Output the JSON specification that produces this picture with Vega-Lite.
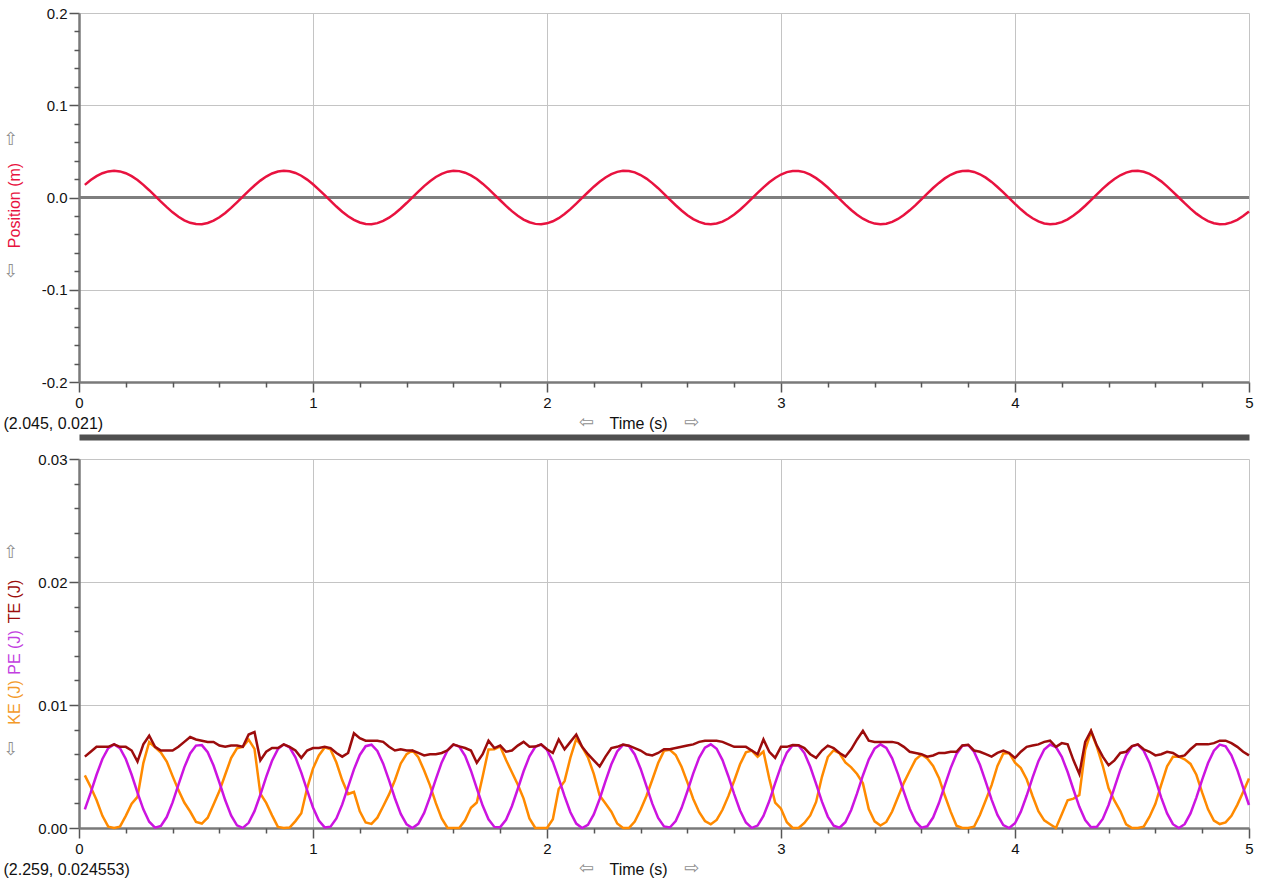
{
"$schema": "https://vega.github.io/schema/vega-lite/v6.json",
"background": "white",
"padding": {"left": 2, "top": 6, "right": 8, "bottom": 2},
"autosize": {"type": "pad"},
"bounds": "flush",
"spacing": 77,
"config": {"view": {"stroke": null}, "font": "Liberation Sans", "axis": {"labelFont": "Liberation Sans", "titleFont": "Liberation Sans", "titleFontWeight": "normal"}},
"datasets": {"d": [
{"t":0.025,"Position":0.0137,"KE":0.00428,"PE":0.00152,"TE":0.0058},
{"t":0.05,"Position":0.0189,"KE":0.00333,"PE":0.00287,"TE":0.0062},
{"t":0.075,"Position":0.0231,"KE":0.00227,"PE":0.00433,"TE":0.0066},
{"t":0.1,"Position":0.0263,"KE":0.00099,"PE":0.00561,"TE":0.0066},
{"t":0.125,"Position":0.0283,"KE":0.00011,"PE":0.00649,"TE":0.0066},
{"t":0.15,"Position":0.029,"KE":0,"PE":0.0068,"TE":0.0068},
{"t":0.175,"Position":0.0283,"KE":0.00011,"PE":0.00649,"TE":0.0066},
{"t":0.2,"Position":0.0263,"KE":0.00099,"PE":0.00561,"TE":0.0066},
{"t":0.225,"Position":0.0231,"KE":0.00197,"PE":0.00433,"TE":0.0063},
{"t":0.25,"Position":0.0189,"KE":0.00253,"PE":0.00287,"TE":0.0054},
{"t":0.275,"Position":0.0137,"KE":0.00528,"PE":0.00152,"TE":0.0068},
{"t":0.3,"Position":0.0079,"KE":0.00699,"PE":0.00051,"TE":0.0075},
{"t":0.325,"Position":0.0018,"KE":0.00657,"PE":0.00003,"TE":0.0066},
{"t":0.35,"Position":-0.0045,"KE":0.00614,"PE":0.00016,"TE":0.0063},
{"t":0.375,"Position":-0.0105,"KE":0.00541,"PE":0.00089,"TE":0.0063},
{"t":0.4,"Position":-0.0161,"KE":0.00422,"PE":0.00208,"TE":0.0063},
{"t":0.425,"Position":-0.0209,"KE":0.00308,"PE":0.00352,"TE":0.0066},
{"t":0.45,"Position":-0.0247,"KE":0.00207,"PE":0.00493,"TE":0.007},
{"t":0.475,"Position":-0.0274,"KE":0.00134,"PE":0.00606,"TE":0.0074},
{"t":0.5,"Position":-0.0288,"KE":0.0005,"PE":0.0067,"TE":0.0072},
{"t":0.525,"Position":-0.0289,"KE":0.00036,"PE":0.00674,"TE":0.0071},
{"t":0.55,"Position":-0.0276,"KE":0.00084,"PE":0.00616,"TE":0.007},
{"t":0.575,"Position":-0.0251,"KE":0.00192,"PE":0.00508,"TE":0.007},
{"t":0.6,"Position":-0.0214,"KE":0.003,"PE":0.0037,"TE":0.0067},
{"t":0.625,"Position":-0.0167,"KE":0.00435,"PE":0.00225,"TE":0.0066},
{"t":0.65,"Position":-0.0112,"KE":0.00568,"PE":0.00102,"TE":0.0067},
{"t":0.675,"Position":-0.0052,"KE":0.00648,"PE":0.00022,"TE":0.0067},
{"t":0.7,"Position":0.001,"KE":0.00659,"PE":0.00001,"TE":0.0066},
{"t":0.725,"Position":0.0072,"KE":0.00718,"PE":0.00042,"TE":0.0076},
{"t":0.75,"Position":0.013,"KE":0.00643,"PE":0.00137,"TE":0.0078},
{"t":0.775,"Position":0.0183,"KE":0.0028,"PE":0.0027,"TE":0.0055},
{"t":0.8,"Position":0.0227,"KE":0.00204,"PE":0.00416,"TE":0.0062},
{"t":0.825,"Position":0.026,"KE":0.00103,"PE":0.00547,"TE":0.0065},
{"t":0.85,"Position":0.0282,"KE":0.00009,"PE":0.00641,"TE":0.0065},
{"t":0.875,"Position":0.029,"KE":0,"PE":0.0068,"TE":0.0068},
{"t":0.9,"Position":0.0285,"KE":0.00004,"PE":0.00656,"TE":0.0066},
{"t":0.925,"Position":0.0266,"KE":0.00056,"PE":0.00574,"TE":0.0063},
{"t":0.95,"Position":0.0236,"KE":0.0012,"PE":0.0045,"TE":0.0057},
{"t":0.975,"Position":0.0194,"KE":0.00325,"PE":0.00305,"TE":0.0063},
{"t":1.0,"Position":0.0144,"KE":0.00483,"PE":0.00167,"TE":0.0065},
{"t":1.025,"Position":0.0086,"KE":0.0059,"PE":0.0006,"TE":0.0065},
{"t":1.05,"Position":0.0025,"KE":0.00655,"PE":0.00005,"TE":0.0066},
{"t":1.075,"Position":-0.0037,"KE":0.00639,"PE":0.00011,"TE":0.0065},
{"t":1.1,"Position":-0.0098,"KE":0.00532,"PE":0.00078,"TE":0.0061},
{"t":1.125,"Position":-0.0154,"KE":0.00388,"PE":0.00192,"TE":0.0058},
{"t":1.15,"Position":-0.0203,"KE":0.00276,"PE":0.00334,"TE":0.0061},
{"t":1.175,"Position":-0.0243,"KE":0.00293,"PE":0.00477,"TE":0.0077},
{"t":1.2,"Position":-0.0271,"KE":0.00136,"PE":0.00594,"TE":0.0073},
{"t":1.225,"Position":-0.0287,"KE":0.00045,"PE":0.00665,"TE":0.0071},
{"t":1.25,"Position":-0.0289,"KE":0.00033,"PE":0.00677,"TE":0.0071},
{"t":1.275,"Position":-0.0278,"KE":0.00084,"PE":0.00626,"TE":0.0071},
{"t":1.3,"Position":-0.0254,"KE":0.00177,"PE":0.00523,"TE":0.007},
{"t":1.325,"Position":-0.0219,"KE":0.00273,"PE":0.00387,"TE":0.0066},
{"t":1.35,"Position":-0.0173,"KE":0.00388,"PE":0.00242,"TE":0.0063},
{"t":1.375,"Position":-0.0119,"KE":0.00525,"PE":0.00115,"TE":0.0064},
{"t":1.4,"Position":-0.006,"KE":0.00601,"PE":0.00029,"TE":0.0063},
{"t":1.425,"Position":0.0002,"KE":0.0063,"PE":0,"TE":0.0063},
{"t":1.45,"Position":0.0064,"KE":0.00576,"PE":0.00034,"TE":0.0061},
{"t":1.475,"Position":0.0124,"KE":0.00467,"PE":0.00123,"TE":0.0059},
{"t":1.5,"Position":0.0177,"KE":0.00347,"PE":0.00253,"TE":0.006},
{"t":1.525,"Position":0.0222,"KE":0.00202,"PE":0.00398,"TE":0.006},
{"t":1.55,"Position":0.0257,"KE":0.00077,"PE":0.00533,"TE":0.0061},
{"t":1.575,"Position":0.028,"KE":0,"PE":0.00632,"TE":0.00632},
{"t":1.6,"Position":0.029,"KE":0,"PE":0.00678,"TE":0.0068},
{"t":1.625,"Position":0.0286,"KE":0,"PE":0.00662,"TE":0.00664},
{"t":1.65,"Position":0.0269,"KE":0.00063,"PE":0.00587,"TE":0.0065},
{"t":1.675,"Position":0.024,"KE":0.00164,"PE":0.00466,"TE":0.0063},
{"t":1.7,"Position":0.02,"KE":0.00207,"PE":0.00323,"TE":0.0053},
{"t":1.725,"Position":0.015,"KE":0.00418,"PE":0.00182,"TE":0.006},
{"t":1.75,"Position":0.0093,"KE":0.00639,"PE":0.00071,"TE":0.0071},
{"t":1.775,"Position":0.0032,"KE":0.00641,"PE":0.00009,"TE":0.0065},
{"t":1.8,"Position":-0.003,"KE":0.00663,"PE":0.00007,"TE":0.0067},
{"t":1.825,"Position":-0.0091,"KE":0.00553,"PE":0.00067,"TE":0.0062},
{"t":1.85,"Position":-0.0148,"KE":0.00453,"PE":0.00177,"TE":0.0063},
{"t":1.875,"Position":-0.0198,"KE":0.00353,"PE":0.00317,"TE":0.0067},
{"t":1.9,"Position":-0.0239,"KE":0.00239,"PE":0.00461,"TE":0.007},
{"t":1.925,"Position":-0.0268,"KE":0.00078,"PE":0.00582,"TE":0.0066},
{"t":1.95,"Position":-0.0286,"KE":0,"PE":0.0066,"TE":0.00662},
{"t":1.975,"Position":-0.029,"KE":0,"PE":0.00679,"TE":0.0068},
{"t":2.0,"Position":-0.028,"KE":0,"PE":0.00635,"TE":0.0064},
{"t":2.025,"Position":-0.0258,"KE":0.00072,"PE":0.00538,"TE":0.0061},
{"t":2.05,"Position":-0.0224,"KE":0.00316,"PE":0.00404,"TE":0.0072},
{"t":2.075,"Position":-0.0179,"KE":0.00381,"PE":0.00259,"TE":0.0064},
{"t":2.1,"Position":-0.0126,"KE":0.00572,"PE":0.00128,"TE":0.007},
{"t":2.125,"Position":-0.0067,"KE":0.00724,"PE":0.00036,"TE":0.0076},
{"t":2.15,"Position":-0.0005,"KE":0.0066,"PE":0,"TE":0.0066},
{"t":2.175,"Position":0.0057,"KE":0.00574,"PE":0.00026,"TE":0.006},
{"t":2.2,"Position":0.0117,"KE":0.0044,"PE":0.0011,"TE":0.0055},
{"t":2.225,"Position":0.0171,"KE":0.00264,"PE":0.00236,"TE":0.005},
{"t":2.25,"Position":0.0217,"KE":0.00199,"PE":0.00381,"TE":0.0058},
{"t":2.275,"Position":0.0253,"KE":0.00132,"PE":0.00518,"TE":0.0065},
{"t":2.3,"Position":0.0278,"KE":0.00037,"PE":0.00623,"TE":0.0066},
{"t":2.325,"Position":0.0289,"KE":0,"PE":0.00676,"TE":0.00678},
{"t":2.35,"Position":0.0287,"KE":0,"PE":0.00667,"TE":0.00669},
{"t":2.375,"Position":0.0272,"KE":0.00052,"PE":0.00598,"TE":0.0065},
{"t":2.4,"Position":0.0244,"KE":0.00148,"PE":0.00482,"TE":0.0063},
{"t":2.425,"Position":0.0205,"KE":0.0026,"PE":0.0034,"TE":0.006},
{"t":2.45,"Position":0.0156,"KE":0.00392,"PE":0.00198,"TE":0.0059},
{"t":2.475,"Position":0.0101,"KE":0.00528,"PE":0.00082,"TE":0.0061},
{"t":2.5,"Position":0.004,"KE":0.00627,"PE":0.00013,"TE":0.0064},
{"t":2.525,"Position":-0.0023,"KE":0.00636,"PE":0.00004,"TE":0.0064},
{"t":2.55,"Position":-0.0084,"KE":0.00593,"PE":0.00057,"TE":0.0065},
{"t":2.575,"Position":-0.0141,"KE":0.00498,"PE":0.00162,"TE":0.0066},
{"t":2.6,"Position":-0.0192,"KE":0.00371,"PE":0.00299,"TE":0.0067},
{"t":2.625,"Position":-0.0234,"KE":0.00236,"PE":0.00444,"TE":0.0068},
{"t":2.65,"Position":-0.0265,"KE":0.0013,"PE":0.0057,"TE":0.007},
{"t":2.675,"Position":-0.0284,"KE":0.00057,"PE":0.00653,"TE":0.0071},
{"t":2.7,"Position":-0.029,"KE":0.0003,"PE":0.0068,"TE":0.0071},
{"t":2.725,"Position":-0.0282,"KE":0.00066,"PE":0.00644,"TE":0.0071},
{"t":2.75,"Position":-0.0261,"KE":0.00148,"PE":0.00552,"TE":0.007},
{"t":2.775,"Position":-0.0228,"KE":0.00259,"PE":0.00421,"TE":0.0068},
{"t":2.8,"Position":-0.0185,"KE":0.00384,"PE":0.00276,"TE":0.0066},
{"t":2.825,"Position":-0.0133,"KE":0.00518,"PE":0.00142,"TE":0.0066},
{"t":2.85,"Position":-0.0074,"KE":0.00615,"PE":0.00045,"TE":0.0066},
{"t":2.875,"Position":-0.0013,"KE":0.00629,"PE":0.00001,"TE":0.0063},
{"t":2.9,"Position":0.005,"KE":0.0058,"PE":0.0002,"TE":0.006},
{"t":2.925,"Position":0.011,"KE":0.00622,"PE":0.00098,"TE":0.0072},
{"t":2.95,"Position":0.0165,"KE":0.00401,"PE":0.00219,"TE":0.0062},
{"t":2.975,"Position":0.0212,"KE":0.00206,"PE":0.00364,"TE":0.0057},
{"t":3.0,"Position":0.0249,"KE":0.00157,"PE":0.00503,"TE":0.0066},
{"t":3.025,"Position":0.0275,"KE":0.00047,"PE":0.00613,"TE":0.0066},
{"t":3.05,"Position":0.0288,"KE":0,"PE":0.00673,"TE":0.00675},
{"t":3.075,"Position":0.0288,"KE":0,"PE":0.00671,"TE":0.00673},
{"t":3.1,"Position":0.0275,"KE":0.00041,"PE":0.00609,"TE":0.0065},
{"t":3.125,"Position":0.0248,"KE":0.00102,"PE":0.00498,"TE":0.006},
{"t":3.15,"Position":0.021,"KE":0.00212,"PE":0.00358,"TE":0.0057},
{"t":3.175,"Position":0.0163,"KE":0.00416,"PE":0.00214,"TE":0.0063},
{"t":3.2,"Position":0.0108,"KE":0.00577,"PE":0.00093,"TE":0.0067},
{"t":3.225,"Position":0.0047,"KE":0.00632,"PE":0.00018,"TE":0.0065},
{"t":3.25,"Position":-0.0015,"KE":0.00608,"PE":0.00002,"TE":0.0061},
{"t":3.275,"Position":-0.0077,"KE":0.00533,"PE":0.00047,"TE":0.0058},
{"t":3.3,"Position":-0.0135,"KE":0.00493,"PE":0.00147,"TE":0.0064},
{"t":3.325,"Position":-0.0187,"KE":0.00439,"PE":0.00281,"TE":0.0072},
{"t":3.35,"Position":-0.023,"KE":0.00363,"PE":0.00427,"TE":0.0079},
{"t":3.375,"Position":-0.0262,"KE":0.00154,"PE":0.00556,"TE":0.0071},
{"t":3.4,"Position":-0.0283,"KE":0.00054,"PE":0.00646,"TE":0.007},
{"t":3.425,"Position":-0.029,"KE":0.0002,"PE":0.0068,"TE":0.007},
{"t":3.45,"Position":-0.0284,"KE":0.00049,"PE":0.00651,"TE":0.007},
{"t":3.475,"Position":-0.0264,"KE":0.00134,"PE":0.00566,"TE":0.007},
{"t":3.5,"Position":-0.0233,"KE":0.00252,"PE":0.00438,"TE":0.0069},
{"t":3.525,"Position":-0.019,"KE":0.00367,"PE":0.00293,"TE":0.0066},
{"t":3.55,"Position":-0.0139,"KE":0.00463,"PE":0.00157,"TE":0.0062},
{"t":3.575,"Position":-0.0082,"KE":0.00556,"PE":0.00054,"TE":0.0061},
{"t":3.6,"Position":-0.002,"KE":0.00597,"PE":0.00003,"TE":0.006},
{"t":3.625,"Position":0.0042,"KE":0.00566,"PE":0.00014,"TE":0.0058},
{"t":3.65,"Position":0.0103,"KE":0.00505,"PE":0.00085,"TE":0.0059},
{"t":3.675,"Position":0.0158,"KE":0.00407,"PE":0.00203,"TE":0.0061},
{"t":3.7,"Position":0.0207,"KE":0.00264,"PE":0.00346,"TE":0.0061},
{"t":3.725,"Position":0.0246,"KE":0.00133,"PE":0.00487,"TE":0.0062},
{"t":3.75,"Position":0.0273,"KE":0.00018,"PE":0.00602,"TE":0.0062},
{"t":3.775,"Position":0.0288,"KE":0,"PE":0.00669,"TE":0.00671},
{"t":3.8,"Position":0.0289,"KE":0,"PE":0.00675,"TE":0.00677},
{"t":3.825,"Position":0.0277,"KE":0.0001,"PE":0.0062,"TE":0.0063},
{"t":3.85,"Position":0.0252,"KE":0.00106,"PE":0.00514,"TE":0.0062},
{"t":3.875,"Position":0.0215,"KE":0.00225,"PE":0.00375,"TE":0.006},
{"t":3.9,"Position":0.0169,"KE":0.00349,"PE":0.00231,"TE":0.0058},
{"t":3.925,"Position":0.0114,"KE":0.00504,"PE":0.00106,"TE":0.0061},
{"t":3.95,"Position":0.0055,"KE":0.00606,"PE":0.00024,"TE":0.0063},
{"t":3.975,"Position":-0.0007,"KE":0.0061,"PE":0,"TE":0.0061},
{"t":4.0,"Position":-0.0069,"KE":0.00531,"PE":0.00039,"TE":0.0057},
{"t":4.025,"Position":-0.0128,"KE":0.00487,"PE":0.00133,"TE":0.0062},
{"t":4.05,"Position":-0.0181,"KE":0.00396,"PE":0.00264,"TE":0.0066},
{"t":4.075,"Position":-0.0225,"KE":0.0026,"PE":0.0041,"TE":0.0067},
{"t":4.1,"Position":-0.0259,"KE":0.00137,"PE":0.00543,"TE":0.0068},
{"t":4.125,"Position":-0.0281,"KE":0.00062,"PE":0.00638,"TE":0.007},
{"t":4.15,"Position":-0.029,"KE":0.00031,"PE":0.00679,"TE":0.0071},
{"t":4.175,"Position":-0.0285,"KE":0,"PE":0.00658,"TE":0.0066},
{"t":4.2,"Position":-0.0267,"KE":0.00112,"PE":0.00578,"TE":0.0069},
{"t":4.225,"Position":-0.0237,"KE":0.00225,"PE":0.00455,"TE":0.0068},
{"t":4.25,"Position":-0.0196,"KE":0.00239,"PE":0.00311,"TE":0.0055},
{"t":4.275,"Position":-0.0146,"KE":0.00268,"PE":0.00172,"TE":0.0044},
{"t":4.3,"Position":-0.0089,"KE":0.00636,"PE":0.00064,"TE":0.007},
{"t":4.325,"Position":-0.0028,"KE":0.00784,"PE":0.00006,"TE":0.0079},
{"t":4.35,"Position":0.0035,"KE":0.0066,"PE":0.0001,"TE":0.0067},
{"t":4.375,"Position":0.0096,"KE":0.00506,"PE":0.00074,"TE":0.0058},
{"t":4.4,"Position":0.0152,"KE":0.00323,"PE":0.00187,"TE":0.0051},
{"t":4.425,"Position":0.0201,"KE":0.00222,"PE":0.00328,"TE":0.0055},
{"t":4.45,"Position":0.0241,"KE":0.00138,"PE":0.00472,"TE":0.0061},
{"t":4.475,"Position":0.027,"KE":0.00029,"PE":0.00591,"TE":0.0062},
{"t":4.5,"Position":0.0286,"KE":0,"PE":0.00664,"TE":0.00666},
{"t":4.525,"Position":0.0289,"KE":0,"PE":0.00678,"TE":0.0068},
{"t":4.55,"Position":0.0279,"KE":0.00011,"PE":0.00629,"TE":0.0064},
{"t":4.575,"Position":0.0256,"KE":0.00092,"PE":0.00528,"TE":0.0062},
{"t":4.6,"Position":0.022,"KE":0.00197,"PE":0.00393,"TE":0.0059},
{"t":4.625,"Position":0.0175,"KE":0.00353,"PE":0.00247,"TE":0.006},
{"t":4.65,"Position":0.0121,"KE":0.00501,"PE":0.00119,"TE":0.0062},
{"t":4.675,"Position":0.0062,"KE":0.00579,"PE":0.00031,"TE":0.0061},
{"t":4.7,"Position":0.0,"KE":0.0058,"PE":0,"TE":0.0058},
{"t":4.725,"Position":-0.0062,"KE":0.00559,"PE":0.00031,"TE":0.0059},
{"t":4.75,"Position":-0.0121,"KE":0.00521,"PE":0.00119,"TE":0.0064},
{"t":4.775,"Position":-0.0175,"KE":0.00433,"PE":0.00247,"TE":0.0068},
{"t":4.8,"Position":-0.022,"KE":0.00287,"PE":0.00393,"TE":0.0068},
{"t":4.825,"Position":-0.0256,"KE":0.00152,"PE":0.00528,"TE":0.0068},
{"t":4.85,"Position":-0.0279,"KE":0.00061,"PE":0.00629,"TE":0.0069},
{"t":4.875,"Position":-0.0289,"KE":0.00032,"PE":0.00678,"TE":0.0071},
{"t":4.9,"Position":-0.0287,"KE":0.00046,"PE":0.00664,"TE":0.0071},
{"t":4.925,"Position":-0.027,"KE":0.00099,"PE":0.00591,"TE":0.0069},
{"t":4.95,"Position":-0.0242,"KE":0.00188,"PE":0.00472,"TE":0.0066},
{"t":4.975,"Position":-0.0201,"KE":0.00292,"PE":0.00328,"TE":0.0062},
{"t":5.0,"Position":-0.0152,"KE":0.00403,"PE":0.00187,"TE":0.0059}
]},
"vconcat": [
{
 "width": 1170, "height": 369,
 "data": {"name": "d"},
 "resolve": {"axis": {"x": "independent", "y": "independent"}},
 "layer": [
  {"mark": {"type": "rule", "color": "#7f7f7f", "strokeWidth": 2},
   "encoding": {"y": {"datum": 0, "type": "quantitative", "scale": {"domain": [-0.2, 0.2], "nice": false}, "axis": null}}},
  {"mark": {"type": "line", "color": "#e8123f", "strokeWidth": 2.5},
   "encoding": {
    "x": {"field": "t", "type": "quantitative", "scale": {"domain": [0, 5], "nice": false},
     "axis": {"orient": "bottom", "values": [0,1,2,3,4,5], "format": "d", "grid": true, "gridColor": "#c4c4c4", "tickSize": 10, "tickWidth": 1.5, "tickColor": "#555555", "domainWidth": 2.5, "domainColor": "#7a7a7a", "labelFontSize": 15, "labelPadding": 3, "labelColor": "#111111", "labelFlush": false, "labelOverlap": false, "title": "Time (s)", "titleFontSize": 16, "titleColor": "#111111", "titleX": 559, "titleY": 46, "titleAlign": "center", "titleBaseline": "alphabetic"}},
    "y": {"field": "Position", "type": "quantitative", "scale": {"domain": [-0.2, 0.2], "nice": false},
     "axis": {"orient": "left", "values": [-0.2,-0.1,0,0.1,0.2], "format": ".1f", "labelExpr": "replace(datum.label, '\u2212', '-')", "grid": true, "gridColor": "#c4c4c4", "tickSize": 10, "tickWidth": 1.5, "tickColor": "#555555", "domainWidth": 2.5, "domainColor": "#7a7a7a", "labelFontSize": 15, "labelPadding": 2, "labelColor": "#111111", "labelFlush": false, "labelOverlap": false, "title": "Position (m)", "titleFontSize": 16, "titleColor": "#e8123f", "titleAngle": -90, "titleX": -60, "titleY": 192, "titleAlign": "center", "titleBaseline": "alphabetic"}}
   }},
  {"mark": {"type": "line", "opacity": 0},
   "encoding": {
    "x": {"field": "t", "type": "quantitative", "scale": {"domain": [0, 5], "nice": false},
     "axis": {"orient": "bottom", "values": [0.2,0.4,0.6,0.8,1.2,1.4,1.6,1.8,2.2,2.4,2.6,2.8,3.2,3.4,3.6,3.8,4.2,4.4,4.6,4.8], "grid": false, "domain": false, "labels": false, "tickSize": 5, "tickWidth": 1.5, "tickColor": "#555555", "title": "(2.045, 0.021)", "titleFontSize": 16, "titleColor": "#111111", "titleX": -76, "titleY": 46, "titleAlign": "left", "titleBaseline": "alphabetic"}},
    "y": {"field": "Position", "type": "quantitative", "scale": {"domain": [-0.2, 0.2], "nice": false},
     "axis": {"orient": "left", "values": [-0.18,-0.16,-0.14,-0.12,-0.08,-0.06,-0.04,-0.02,0.02,0.04,0.06,0.08,0.12,0.14,0.16,0.18], "grid": false, "domain": false, "labels": false, "tickSize": 5, "tickWidth": 1.5, "tickColor": "#555555", "title": null}}
   }},
  {"mark": {"type": "line", "opacity": 0},
   "encoding": {
    "x": {"field": "t", "type": "quantitative", "scale": {"domain": [0, 5], "nice": false},
     "axis": {"orient": "bottom", "grid": false, "domain": false, "labels": false, "ticks": false, "title": "\u21e6", "titleFont": "DejaVu Sans", "titleFontSize": 18, "titleColor": "#8f8f8f", "titleAngle": 0, "titleX": 507, "titleY": 40, "titleAlign": "center", "titleBaseline": "middle"}},
    "y": {"field": "Position", "type": "quantitative", "scale": {"domain": [-0.2, 0.2], "nice": false},
     "axis": {"orient": "left", "grid": false, "domain": false, "labels": false, "ticks": false, "title": "\u21e7", "titleFont": "DejaVu Sans", "titleFontSize": 18, "titleColor": "#8f8f8f", "titleAngle": 0, "titleX": -68.5, "titleY": 126, "titleAlign": "center", "titleBaseline": "middle"}}
   }},
  {"mark": {"type": "line", "opacity": 0},
   "encoding": {
    "x": {"field": "t", "type": "quantitative", "scale": {"domain": [0, 5], "nice": false},
     "axis": {"orient": "bottom", "grid": false, "domain": false, "labels": false, "ticks": false, "title": "\u21e8", "titleFont": "DejaVu Sans", "titleFontSize": 18, "titleColor": "#8f8f8f", "titleAngle": 0, "titleX": 612, "titleY": 40, "titleAlign": "center", "titleBaseline": "middle"}},
    "y": {"field": "Position", "type": "quantitative", "scale": {"domain": [-0.2, 0.2], "nice": false},
     "axis": {"orient": "left", "grid": false, "domain": false, "labels": false, "ticks": false, "title": "\u21e9", "titleFont": "DejaVu Sans", "titleFontSize": 18, "titleColor": "#8f8f8f", "titleAngle": 0, "titleX": -68.5, "titleY": 258, "titleAlign": "center", "titleBaseline": "middle"}}
   }}
 ]
},
{
 "width": 1170, "height": 369,
 "data": {"name": "d"},
 "resolve": {"axis": {"x": "independent", "y": "independent"}},
 "layer": [
  {"mark": {"type": "line", "color": "#ff8a00", "strokeWidth": 2.5},
   "encoding": {
    "x": {"field": "t", "type": "quantitative", "scale": {"domain": [0, 5], "nice": false},
     "axis": {"orient": "bottom", "values": [0,1,2,3,4,5], "format": "d", "grid": true, "gridColor": "#c4c4c4", "tickSize": 10, "tickWidth": 1.5, "tickColor": "#555555", "domainWidth": 2.5, "domainColor": "#7a7a7a", "labelFontSize": 15, "labelPadding": 3, "labelColor": "#111111", "labelFlush": false, "labelOverlap": false, "title": "Time (s)", "titleFontSize": 16, "titleColor": "#111111", "titleX": 559, "titleY": 46, "titleAlign": "center", "titleBaseline": "alphabetic"}},
    "y": {"field": "KE", "type": "quantitative", "scale": {"domain": [0, 0.03], "nice": false},
     "axis": {"orient": "left", "values": [0,0.01,0.02,0.03], "format": ".2f", "grid": true, "gridColor": "#c4c4c4", "tickSize": 10, "tickWidth": 1.5, "tickColor": "#555555", "domainWidth": 2.5, "domainColor": "#7a7a7a", "labelFontSize": 15, "labelPadding": 2, "labelColor": "#111111", "labelFlush": false, "labelOverlap": false, "title": "KE (J)", "titleFontSize": 16, "titleColor": "#f39a2a", "titleAngle": -90, "titleX": -60, "titleY": 243, "titleAlign": "center", "titleBaseline": "alphabetic"}}
   }},
  {"mark": {"type": "line", "color": "#cc14e0", "strokeWidth": 2.5},
   "encoding": {
    "x": {"field": "t", "type": "quantitative", "scale": {"domain": [0, 5], "nice": false},
     "axis": {"orient": "bottom", "values": [0.2,0.4,0.6,0.8,1.2,1.4,1.6,1.8,2.2,2.4,2.6,2.8,3.2,3.4,3.6,3.8,4.2,4.4,4.6,4.8], "grid": false, "domain": false, "labels": false, "tickSize": 5, "tickWidth": 1.5, "tickColor": "#555555", "title": "(2.259, 0.024553)", "titleFontSize": 16, "titleColor": "#111111", "titleX": -76, "titleY": 46, "titleAlign": "left", "titleBaseline": "alphabetic"}},
    "y": {"field": "PE", "type": "quantitative", "scale": {"domain": [0, 0.03], "nice": false},
     "axis": {"orient": "left", "grid": false, "domain": false, "labels": false, "ticks": false, "title": "PE (J)", "titleFontSize": 16, "titleColor": "#c23ee0", "titleAngle": -90, "titleX": -60, "titleY": 193, "titleAlign": "center", "titleBaseline": "alphabetic"}}
   }},
  {"mark": {"type": "line", "color": "#9c0c0c", "strokeWidth": 2.5},
   "encoding": {
    "x": {"field": "t", "type": "quantitative", "scale": {"domain": [0, 5], "nice": false},
     "axis": {"orient": "bottom", "grid": false, "domain": false, "labels": false, "ticks": false, "title": "\u21e6", "titleFont": "DejaVu Sans", "titleFontSize": 18, "titleColor": "#8f8f8f", "titleAngle": 0, "titleX": 507, "titleY": 40, "titleAlign": "center", "titleBaseline": "middle"}},
    "y": {"field": "TE", "type": "quantitative", "scale": {"domain": [0, 0.03], "nice": false},
     "axis": {"orient": "left", "grid": false, "domain": false, "labels": false, "ticks": false, "title": "TE (J)", "titleFontSize": 16, "titleColor": "#9c0c0c", "titleAngle": -90, "titleX": -60, "titleY": 142, "titleAlign": "center", "titleBaseline": "alphabetic"}}
   }},
  {"mark": {"type": "line", "opacity": 0},
   "encoding": {
    "x": {"field": "t", "type": "quantitative", "scale": {"domain": [0, 5], "nice": false},
     "axis": {"orient": "bottom", "grid": false, "domain": false, "labels": false, "ticks": false, "title": "\u21e8", "titleFont": "DejaVu Sans", "titleFontSize": 18, "titleColor": "#8f8f8f", "titleAngle": 0, "titleX": 612, "titleY": 40, "titleAlign": "center", "titleBaseline": "middle"}},
    "y": {"field": "TE", "type": "quantitative", "scale": {"domain": [0, 0.03], "nice": false},
     "axis": {"orient": "left", "values": [0.002,0.004,0.006,0.008,0.012,0.014,0.016,0.018,0.022,0.024,0.026,0.028], "grid": false, "domain": false, "labels": false, "tickSize": 5, "tickWidth": 1.5, "tickColor": "#555555", "title": null}}
   }},
  {"mark": {"type": "line", "opacity": 0},
   "encoding": {
    "x": {"field": "t", "type": "quantitative", "scale": {"domain": [0, 5], "nice": false},
     "axis": {"orient": "top", "offset": 22, "grid": false, "domain": true, "domainWidth": 6, "domainColor": "#4f4f4f", "labels": false, "ticks": false, "title": null}},
    "y": {"field": "TE", "type": "quantitative", "scale": {"domain": [0, 0.03], "nice": false},
     "axis": {"orient": "left", "grid": false, "domain": false, "labels": false, "ticks": false, "title": "\u21e7", "titleFont": "DejaVu Sans", "titleFontSize": 18, "titleColor": "#8f8f8f", "titleAngle": 0, "titleX": -68.5, "titleY": 93, "titleAlign": "center", "titleBaseline": "middle"}}
   }},
  {"mark": {"type": "line", "opacity": 0},
   "encoding": {
    "x": {"field": "t", "type": "quantitative", "scale": {"domain": [0, 5], "nice": false}, "axis": null},
    "y": {"field": "TE", "type": "quantitative", "scale": {"domain": [0, 0.03], "nice": false},
     "axis": {"orient": "left", "grid": false, "domain": false, "labels": false, "ticks": false, "title": "\u21e9", "titleFont": "DejaVu Sans", "titleFontSize": 18, "titleColor": "#8f8f8f", "titleAngle": 0, "titleX": -68.5, "titleY": 290, "titleAlign": "center", "titleBaseline": "middle"}}
   }}
 ]
}
]
}
